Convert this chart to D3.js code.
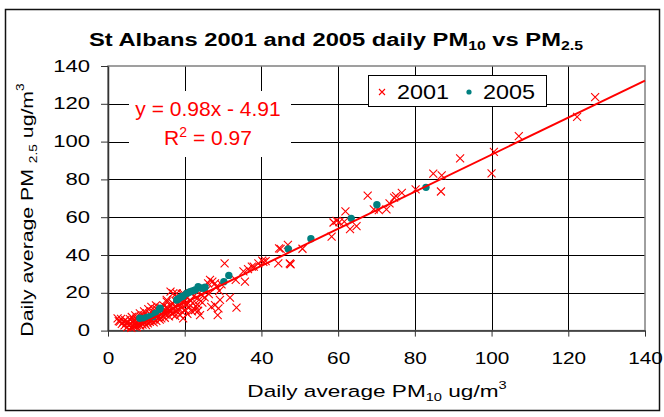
<!DOCTYPE html>
<html>
<head>
<meta charset="utf-8">
<script src="https://cdn.jsdelivr.net/npm/d3@7"></script>
<style>
    body { margin: 0; background: #ffffff; }
    svg text { font-family: Arial, "Liberation Sans", sans-serif; }
</style>
</head>
<body>
<svg id="chart" width="664" height="417"></svg>
<script>
// axis ticks
const xTicks = [0, 20, 40, 60, 80, 100, 120, 140];
const yTicks = [0, 20, 40, 60, 80, 100, 120, 140];

// trend line y = 0.98x - 4.91, drawn over this x range
const trendSlope = 0.98;
const trendIntercept = -4.91;
const trendRange = [5.01, 140];

// 2001 daily PM10 / PM2.5 pairs
const series2001 = [
    [127, 123.5], [122.3, 113.1], [107.1, 102.9], [100.6, 94.6], [100, 83.2], [91.8, 91.1],
    [87, 82.1], [84.8, 83], [86.8, 73.6], [80.2, 74.7], [76.6, 72.9], [75.1, 71.2],
    [74.6, 70.3], [73.4, 67.3], [72.6, 64.1], [70.6, 63.8], [69.3, 64.1], [67.7, 71.4],
    [61.9, 63.1], [64.8, 55.3], [63.1, 53.7], [61.6, 57.7], [60.3, 57.4], [59.6, 58],
    [58.8, 57.2], [58.3, 49.7], [50.7, 43.3], [46.9, 45.4], [45, 43.2], [44.6, 43.5],
    [47.6, 35.1], [47.4, 35.5], [44.4, 35.6], [41.1, 36.8], [40.5, 36.4], [40.2, 37],
    [39.2, 35.6], [38, 33.8], [37.5, 33.8], [36.5, 32.5], [35.3, 31.3], [35.7, 25.9],
    [33.3, 26.8], [30.4, 35.6], [31.8, 17.4], [33.5, 12.2],
    [2.5, 6.5], [2.8, 5.0], [3.1, 4.7], [3.4, 6.2], [3.6, 3.5],
    [4.0, 4.7], [4.3, 2.8], [4.5, 5.6], [4.8, 3.9],
    [5.0, 1.8], [5.2, 4.4], [5.5, 2.9], [5.7, 6.1], [5.9, 3.4],
    [6.1, 1.5], [6.3, 4.8], [6.5, 2.6], [6.7, 5.5], [6.9, 3.7], [6.2, 7.2],
    [7.0, 2.2], [7.2, 4.1], [7.4, 6.3], [7.6, 3.0], [7.8, 5.2], [7.5, 1.9], [7.1, 8.0],
    [8.0, 3.6], [8.2, 5.9], [8.4, 2.7], [8.5, 7.4], [8.7, 4.5], [8.9, 6.6], [8.3, 9.1],
    [9.0, 3.2], [9.2, 5.3], [9.3, 8.0], [9.5, 4.2], [9.7, 6.9], [9.9, 2.9], [9.4, 10.2],
    [10.1, 5.0], [10.2, 7.7], [10.4, 3.8], [10.6, 6.1], [10.8, 9.0], [10.9, 4.6], [10.5, 11.4],
    [11.0, 6.6], [11.2, 8.3], [11.4, 5.2], [11.6, 10.0], [11.8, 7.1], [11.9, 4.3], [11.3, 12.6],
    [12.0, 6.0], [12.2, 9.4], [12.4, 7.6], [12.6, 5.1], [12.7, 11.2], [12.9, 8.5], [12.5, 13.4],
    [13.1, 7.0], [13.3, 10.1], [13.5, 5.8], [13.6, 12.0], [13.8, 8.9], [13.9, 6.5],
    [14.0, 11.8], [14.2, 7.9], [14.4, 9.6], [14.6, 13.1], [14.8, 6.8], [14.9, 10.7],
    [15.0, 8.4], [15.2, 12.3], [15.3, 15.3], [15.5, 9.9], [15.7, 11.8], [15.9, 7.5], [15.3, 16.2],
    [16.1, 10.4], [16.3, 20.6], [16.4, 13.0], [16.6, 8.9], [16.8, 14.6], [16.9, 11.3],
    [17.0, 19.7], [17.2, 9.5], [17.4, 12.7], [17.6, 15.8], [17.9, 19.7], [17.8, 10.6], [17.5, 7.8],
    [18.1, 13.6], [18.3, 11.0], [18.5, 16.9], [18.8, 8.2], [18.9, 14.4],
    [19.2, 19.4], [19.3, 12.1], [19.6, 6.5], [19.6, 19.7], [19.8, 15.4], [19.4, 9.8],
    [20.1, 10.9], [20.3, 13.3], [20.6, 17.3], [20.9, 14.4], [20.7, 8.8],
    [21.2, 12.4], [21.5, 16.0], [21.8, 19.8], [21.9, 10.2],
    [22.1, 14.7], [22.4, 18.2], [22.7, 10.9], [22.9, 12.8],
    [23.1, 20.6], [23.5, 10.5], [23.8, 16.4], [23.3, 13.9],
    [24.0, 8.2], [24.3, 19.0], [24.6, 14.8], [24.9, 22.1],
    [25.2, 17.6], [25.7, 21.5], [26.1, 25.0], [26.6, 26.8], [26.9, 12.6], [26.3, 19.3],
    [27.2, 25.9], [27.9, 25.0], [27.9, 13.5], [28.3, 23.2], [28.6, 8.2], [28.8, 11.8],
    [29.2, 16.2], [29.0, 21.0], [29.6, 24.4]
];

// 2005 daily PM10 / PM2.5 pairs
const series2005 = [
    [8.3, 6.5], [9.6, 6.5], [10.2, 7.0], [10.8, 7.4], [11.7, 7.4], [12.3, 9.1],
    [13.4, 11.3], [13.6, 11.8], [17.9, 16.2], [18.2, 16.6], [18.6, 17.2], [19.2, 17.9],
    [19.6, 18.3], [20.5, 19.7], [21.0, 20.1], [21.4, 20.6], [22.0, 21.0], [22.7, 21.5],
    [23.5, 23.2], [24.0, 22.6], [24.8, 22.4], [25.3, 22.9], [30.2, 25.9], [31.5, 29.2],
    [47, 43.2], [52.9, 48.6], [63.4, 59.4], [70.1, 66.6], [82.9, 75.8]
];

const svg = d3.select("#chart");

// outer chart frame
svg.append("rect")
   .attr("x", 5.5).attr("y", 9.5)
   .attr("width", 654).attr("height", 401)
   .style("fill", "white")
   .style("stroke", "#111")
   .style("stroke-width", 1.5);

const x = d3.scaleLinear().domain([0, 140]).range([108, 645]);
const y = d3.scaleLinear().domain([0, 140]).range([330.6, 66]);

// gridlines
const grid = svg.append("g").attr("class", "grid");
grid.selectAll("line.v")
    .data(xTicks.slice(1, -1))
    .join("line")
    .attr("class", "v")
    .attr("x1", (d) => Math.round(x(d)) + 0.5).attr("x2", (d) => Math.round(x(d)) + 0.5)
    .attr("y1", y(140)).attr("y2", y(0))
    .style("stroke", "#000").style("stroke-width", 1);
grid.selectAll("line.h")
    .data(yTicks.slice(1, -1))
    .join("line")
    .attr("class", "h")
    .attr("x1", x(0)).attr("x2", x(140))
    .attr("y1", (d) => Math.round(y(d)) + 0.5).attr("y2", (d) => Math.round(y(d)) + 0.5)
    .style("stroke", "#000").style("stroke-width", 1);

// plot area border
svg.append("rect")
   .attr("x", x(0)).attr("y", y(140))
   .attr("width", x(140) - x(0)).attr("height", y(0) - y(140))
   .style("fill", "none")
   .style("stroke", "#808080")
   .style("stroke-width", 1.5);

// axes
const xAxis = svg.append("g")
                 .attr("transform", "translate(0," + y(0) + ")")
                 .call(d3.axisBottom(x).tickValues(xTicks).tickSize(6).tickPadding(16).tickSizeOuter(0));
const yAxis = svg.append("g")
                 .attr("transform", "translate(" + x(0) + ",0)")
                 .call(d3.axisLeft(y).tickValues(yTicks).tickSize(7).tickPadding(11).tickSizeOuter(0));
for (const ax of [xAxis, yAxis]) {
    ax.select(".domain").style("stroke", "#333").style("stroke-width", 1.5);
    ax.selectAll(".tick line").style("stroke", "#333").style("stroke-width", 1);
    ax.selectAll(".tick text")
      .style("font-size", "16px")
      .style("fill", "#000");
}
// tick labels in the picture are drawn wide
xAxis.selectAll(".tick text")
     .attr("transform", "translate(0,22) scale(1.3,1)")
     .attr("y", 0);
yAxis.selectAll(".tick text")
     .attr("transform", "translate(-18,0) scale(1.38,1)")
     .attr("x", 0);

// equation label background
svg.append("rect")
   .attr("x", 129).attr("y", 91)
   .attr("width", 162).attr("height", 66)
   .style("fill", "white");

// 2001 markers
const crossSize = 4;
svg.append("g")
   .selectAll("path")
   .data(series2001)
   .join("path")
   .attr("d", (d) => {
       const cx = x(d[0]), cy = y(d[1]), s = crossSize;
       return "M" + (cx - s) + "," + (cy - s) + "L" + (cx + s) + "," + (cy + s) +
              "M" + (cx - s) + "," + (cy + s) + "L" + (cx + s) + "," + (cy - s);
   })
   .style("stroke", "#ff0000")
   .style("stroke-width", 1.1)
   .style("fill", "none");

// 2005 markers
svg.append("g")
   .selectAll("circle")
   .data(series2005)
   .join("circle")
   .attr("cx", (d) => x(d[0]))
   .attr("cy", (d) => y(d[1]))
   .attr("r", 3.7)
   .style("fill", "#008080");

// trend line
svg.append("line")
   .attr("x1", x(trendRange[0])).attr("y1", y(trendSlope * trendRange[0] + trendIntercept))
   .attr("x2", x(trendRange[1])).attr("y2", y(trendSlope * trendRange[1] + trendIntercept))
   .style("stroke", "#ff0000")
   .style("stroke-width", 2);

// equation text
svg.append("text")
   .attr("x", 208).attr("y", 116)
   .attr("text-anchor", "middle")
   .style("font-size", "21px").style("fill", "#ff0000")
   .text("y = 0.98x - 4.91");
const r2 = svg.append("text")
              .attr("x", 208).attr("y", 145)
              .attr("text-anchor", "middle")
              .style("font-size", "21px").style("fill", "#ff0000");
r2.append("tspan").text("R");
r2.append("tspan").attr("dy", -8).style("font-size", "14px").text("2");
r2.append("tspan").attr("dy", 8).text(" = 0.97");

// legend
const legend = svg.append("g");
legend.append("rect")
      .attr("x", 368.5).attr("y", 75.5)
      .attr("width", 178).attr("height", 31)
      .style("fill", "white")
      .style("stroke", "#000")
      .style("stroke-width", 1);
legend.append("path")
      .attr("d", "M379,89L385,95M379,95L385,89")
      .style("stroke", "#ff0000")
      .style("stroke-width", 1.1);
legend.append("text")
      .attr("transform", "translate(397,99) scale(1.17,1)")
      .style("font-size", "20px")
      .text("2001");
legend.append("circle")
      .attr("cx", 469).attr("cy", 92).attr("r", 2.6)
      .style("fill", "#008080");
legend.append("text")
      .attr("transform", "translate(483,99) scale(1.17,1)")
      .style("font-size", "20px")
      .text("2005");

// title
const title = svg.append("text")
                 .attr("transform", "translate(336,46) scale(1.32,1)")
                 .attr("text-anchor", "middle")
                 .style("font-size", "18px")
                 .style("font-weight", "bold");
title.append("tspan").text("St Albans 2001 and 2005 daily PM");
title.append("tspan").attr("dy", 4).style("font-size", "12px").text("10");
title.append("tspan").attr("dy", -4).text(" vs PM");
title.append("tspan").attr("dy", 4).style("font-size", "12px").text("2.5");

// x axis title
const xTitle = svg.append("text")
                  .attr("transform", "translate(377,397) scale(1.33,1)")
                  .attr("text-anchor", "middle")
                  .style("font-size", "17px");
xTitle.append("tspan").text("Daily average PM");
xTitle.append("tspan").attr("dy", 4).style("font-size", "11px").text("10");
xTitle.append("tspan").attr("dy", -4).text(" ug/m");
xTitle.append("tspan").attr("dy", -8).style("font-size", "11px").text("3");

// y axis title
const yTitle = svg.append("text")
                  .attr("transform", "translate(33,210) rotate(-90) scale(1.25,1)")
                  .attr("text-anchor", "middle")
                  .style("font-size", "17px");
yTitle.append("tspan").text("Daily average PM ");
yTitle.append("tspan").attr("dy", 4).style("font-size", "11px").text("2.5");
yTitle.append("tspan").attr("dy", -4).text(" ug/m");
yTitle.append("tspan").attr("dy", -9).style("font-size", "11px").text("3");
</script>
</body>
</html>
